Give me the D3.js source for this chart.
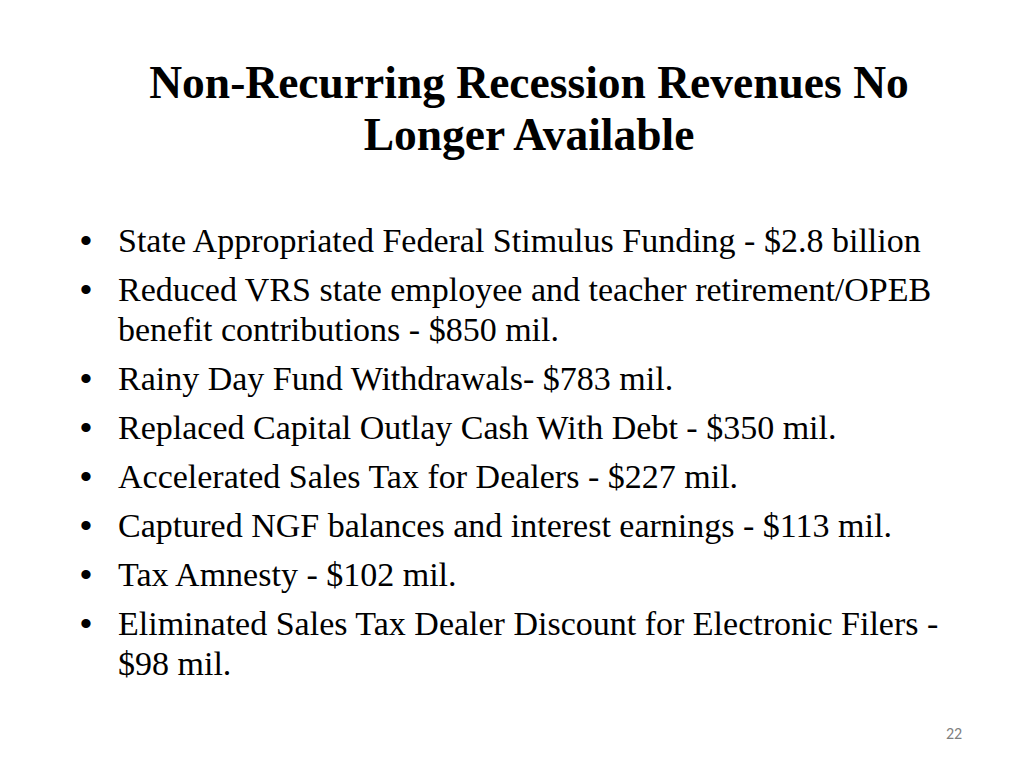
<!DOCTYPE html>
<html>
<head>
<meta charset="utf-8">
<script src="https://cdn.jsdelivr.net/npm/d3@7"></script>
<style>
  body { margin: 0; background: #fff; }
</style>
</head>
<body>
<div id="slide"></div>
<script>
// slide content
const titleLines = ["Non-Recurring Recession Revenues No", "Longer Available"];
const bulletItems = [
  ["State Appropriated Federal Stimulus Funding - $2.8 billion"],
  ["Reduced VRS state employee and teacher retirement/OPEB", "benefit contributions - $850 mil."],
  ["Rainy Day Fund Withdrawals- $783 mil."],
  ["Replaced Capital Outlay Cash With Debt - $350 mil."],
  ["Accelerated Sales Tax for Dealers - $227 mil."],
  ["Captured NGF balances and interest earnings - $113 mil."],
  ["Tax Amnesty - $102 mil."],
  ["Eliminated Sales Tax Dealer Discount for Electronic Filers -", "$98 mil."]
];
const pageNumber = "22";

const width = 1024, height = 768;

const svg = d3.select("#slide")
  .append("svg")
  .attr("width", width)
  .attr("height", height);

// title
svg.append("g")
   .selectAll("text")
   .data(titleLines)
   .join("text")
   .attr("x", 529)
   .attr("y", (d, i) => 98 + i * 52)
   .attr("text-anchor", "middle")
   .attr("font-family", "'Liberation Serif', 'Times New Roman', serif")
   .attr("font-weight", "bold")
   .attr("font-size", 45.5)
   .attr("fill", "#000")
   .text(d => d);

// flatten bullets into rows, wrapped lines get a smaller gap
let rows = [];
let yPos = 252;
bulletItems.forEach((item, i) => {
  item.forEach((line, j) => {
    rows.push({text: line, bullet: j === 0, y: yPos});
    yPos += (j < item.length - 1) ? 40 : 0;
  });
  yPos += 49;
});

const body = svg.append("g")
  .attr("font-family", "'Liberation Serif', 'Times New Roman', serif")
  .attr("font-size", 34)
  .attr("fill", "#000");

body.selectAll("text.line")
    .data(rows)
    .join("text")
    .attr("class", "line")
    .attr("x", 118)
    .attr("y", d => d.y)
    .text(d => d.text);

body.selectAll("text.dot")
    .data(rows.filter(d => d.bullet))
    .join("text")
    .attr("class", "dot")
    .attr("x", 80)
    .attr("y", d => d.y)
    .attr("font-family", "Arial, 'Liberation Sans', sans-serif")
    .text("\u2022");

// page number
svg.append("text")
   .attr("x", 954)
   .attr("y", 739)
   .attr("text-anchor", "middle")
   .attr("font-family", "Carlito, 'Open Sans', sans-serif")
   .attr("font-size", 16)
   .attr("fill", "#7f7f7f")
   .text(pageNumber);
</script>
</body>
</html>
